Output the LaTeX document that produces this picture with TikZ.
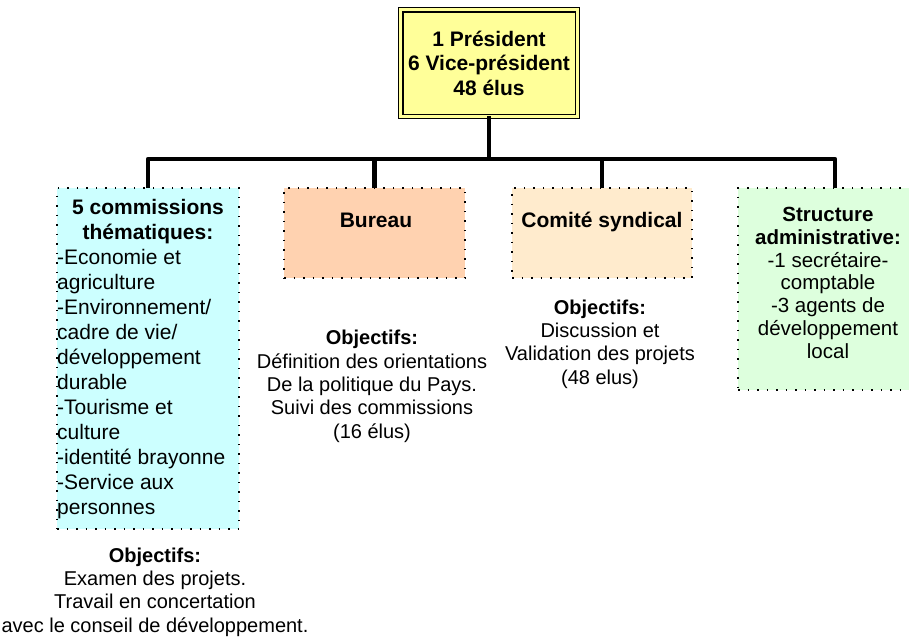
\documentclass[tikz,border=0pt]{standalone}
\usepackage{fontspec}
\setmainfont{Liberation Sans}
\definecolor{topfill}{HTML}{FFFF99}
\definecolor{cyanfill}{HTML}{CCFFFF}
\definecolor{peachfill}{HTML}{FFD2B0}
\definecolor{beigefill}{HTML}{FFEBCD}
\definecolor{greenfill}{HTML}{DDFFDD}
\begin{document}
\begin{tikzpicture}[x=1pt,y=-1pt,
  dotbox/.style={draw=black, line width=1.5pt, dash pattern=on 1.5pt off 8pt, inner sep=0pt, outer sep=0pt},
  conn/.style={line width=4.5pt, line join=round},
  lbl/.style={inner sep=0pt, align=center, anchor=base, font=\fontsize{20}{23.3}\selectfont},
  lblb/.style={lbl, font=\fontsize{21}{25}\selectfont\bfseries}]
\clip (0,0) rectangle (909,640);
\fill[white] (0,0) rectangle (909,640);
% top box
\node[draw=black, line width=1.2pt, double=topfill, double distance=3pt, fill=topfill,
      minimum width=176.4pt, minimum height=106.4pt, inner sep=0pt, outer sep=0pt] (top) at (489,63) {};
\node[lblb, font=\fontsize{21}{24.5}\selectfont\bfseries] (toptxt) at (489,95) {1 Président\\6 Vice-président\\48 élus};
% boxes
\node[dotbox, fill=cyanfill, minimum width=182pt, minimum height=341pt] (b1) at (148,358.5) {};
\node[dotbox, fill=peachfill, minimum width=181pt, minimum height=90pt] (b2) at (374.5,233) {};
\node[dotbox, fill=beigefill, minimum width=180pt, minimum height=90pt] (b3) at (602,233) {};
\node[dotbox, fill=greenfill, minimum width=194pt, minimum height=202pt] (b4) at (835,289) {};
% connectors
\coordinate (bar) at (0,159);
\draw[conn] (top.south) -- (top.south |- bar);
\draw[conn] (b1.north) -- (b1.north |- bar) -- (b4.north |- bar) -- (b4.north);
\draw[conn] (b2.north |- bar) -- (b2.north);
\draw[conn] (b3.north |- bar) -- (b3.north);
% texts
\node[lblb, font=\fontsize{21}{25}\selectfont\bfseries] (b1head) at (148,239) {5 commissions\\thématiques:};
\node[lbl, anchor=base west, align=left, font=\fontsize{21}{25}\selectfont] (b1list) at (57,514)
  {-Economie et\\agriculture\\-Environnement/\\cadre de vie/\\développement\\durable\\-Tourisme et\\culture\\-identité brayonne\\-Service aux\\personnes};
\node[lblb] (b2txt) at (376,227) {Bureau};
\node[lblb] (b3txt) at (602,227) {Comité syndical};
\node[lbl, font=\fontsize{20.5}{22.7}\selectfont] (b4txt) at (828,358)
  {\textbf{Structure}\\\textbf{administrative:}\\-1 secrétaire-\\comptable\\-3 agents de\\développement\\local};
\node[lbl] (obj2) at (372,438) {\textbf{Objectifs:}\\Définition des orientations\\De la politique du Pays.\\Suivi des commissions\\(16 élus)};
\node[lbl] (obj3) at (600,384) {\textbf{Objectifs:}\\Discussion et\\Validation des projets\\(48 elus)};
\node[lbl] (obj1) at (155,632) {\textbf{Objectifs:}\\Examen des projets.\\Travail en concertation\\avec le conseil de développement.};
\end{tikzpicture}
\end{document}
